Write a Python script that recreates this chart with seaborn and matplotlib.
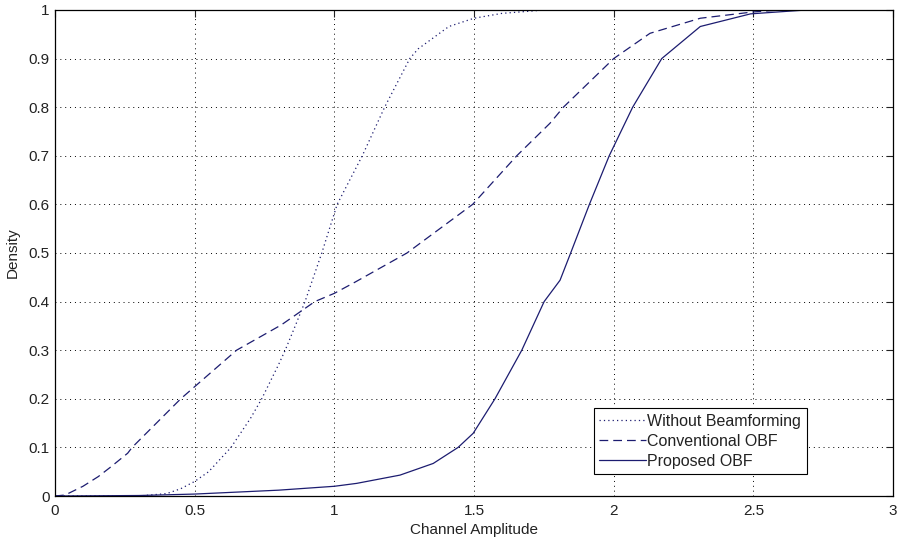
import matplotlib
matplotlib.use("Agg")
import matplotlib.pyplot as plt
import seaborn as sns

# CDF curves
wb_x = [0, 0.3, 0.4, 0.45, 0.5, 0.55, 0.63, 0.7, 0.74, 0.8, 0.824, 0.86, 0.895,
        0.955, 1.01, 1.1, 1.18, 1.27, 1.3, 1.41, 1.5, 1.6, 1.71, 1.75]
wb_y = [0, 0, 0.005, 0.015, 0.03, 0.05, 0.1, 0.16, 0.2, 0.27, 0.3, 0.35, 0.4,
        0.5, 0.6, 0.7, 0.8, 0.9, 0.92, 0.966, 0.983, 0.993, 0.998, 1.0]

conv_x = [0, 0.036, 0.1, 0.155, 0.2, 0.26, 0.276, 0.45, 0.5, 0.65, 0.81, 0.93,
          1.0, 1.074, 1.26, 1.495, 1.653, 1.772, 1.82, 2.0, 2.13, 2.31, 2.5, 2.6]
conv_y = [0, 0.002, 0.02, 0.04, 0.06, 0.088, 0.1, 0.2, 0.225, 0.3, 0.352, 0.4,
          0.417, 0.44, 0.5, 0.6, 0.7, 0.767, 0.8, 0.9, 0.952, 0.983, 0.996, 1.0]

prop_x = [0, 0.3, 0.5, 0.8, 1.0, 1.08, 1.235, 1.354, 1.443, 1.497, 1.575, 1.671,
          1.751, 1.808, 1.846, 1.913, 1.984, 2.068, 2.172, 2.31, 2.49, 2.69]
prop_y = [0, 0.001, 0.004, 0.012, 0.02, 0.026, 0.043, 0.067, 0.1, 0.129, 0.2, 0.3,
          0.4, 0.444, 0.5, 0.6, 0.7, 0.8, 0.9, 0.966, 0.992, 1.0]

sns.set_style("white")
plt.rcParams["font.family"] = ["Liberation Sans", "DejaVu Sans"]

fig = plt.figure(figsize=(9.08, 5.45), dpi=100)
ax = fig.add_axes([0.0606, 0.0899, 0.9229, 0.8918])

color = "#1c1c70"
sns.lineplot(x=wb_x, y=wb_y, ax=ax, color=color, linewidth=0.9,
             linestyle=(0, (1, 2.5)), sort=False, label="Without Beamforming")
sns.lineplot(x=conv_x, y=conv_y, ax=ax, color=color, linewidth=0.9,
             linestyle=(0, (7, 4)), sort=False, label="Conventional OBF")
sns.lineplot(x=prop_x, y=prop_y, ax=ax, color=color, linewidth=0.9,
             linestyle="-", sort=False, label="Proposed OBF")

ax.set_xlim(0, 3)
ax.set_ylim(0, 1)
ax.set_xticks([0, 0.5, 1, 1.5, 2, 2.5, 3])
ax.set_xticklabels(["0", "0.5", "1", "1.5", "2", "2.5", "3"])
ax.set_yticks([i / 10 for i in range(11)])
ax.set_yticklabels(["0", "0.1", "0.2", "0.3", "0.4", "0.5", "0.6", "0.7", "0.8", "0.9", "1"])
ax.tick_params(direction="in", length=5, width=0.8, labelsize=11, colors="#222222",
               top=True, right=True)
ax.tick_params(axis="x", pad=6)
ax.tick_params(axis="y", pad=4)
ax.grid(True, color="black", linestyle=(0, (1, 4)), linewidth=0.7)

for s in ax.spines.values():
    s.set_color("black")
    s.set_linewidth(0.9)

ax.set_xlabel("Channel Amplitude", fontsize=11, labelpad=3, color="#222222")
ax.set_ylabel("Density", fontsize=11, labelpad=6, color="#222222")

leg = ax.legend(loc="lower right", bbox_to_anchor=(0.897, 0.045), fontsize=11.5,
                frameon=True, fancybox=False, handlelength=2.9, handletextpad=0.1,
                borderpad=0.35, labelspacing=0.3, borderaxespad=0)
leg.get_frame().set_edgecolor("black")
leg.get_frame().set_linewidth(0.8)
leg.get_frame().set_alpha(1)
for t in leg.get_texts():
    t.set_color("#222222")

fig.savefig("out.png", dpi=100)
